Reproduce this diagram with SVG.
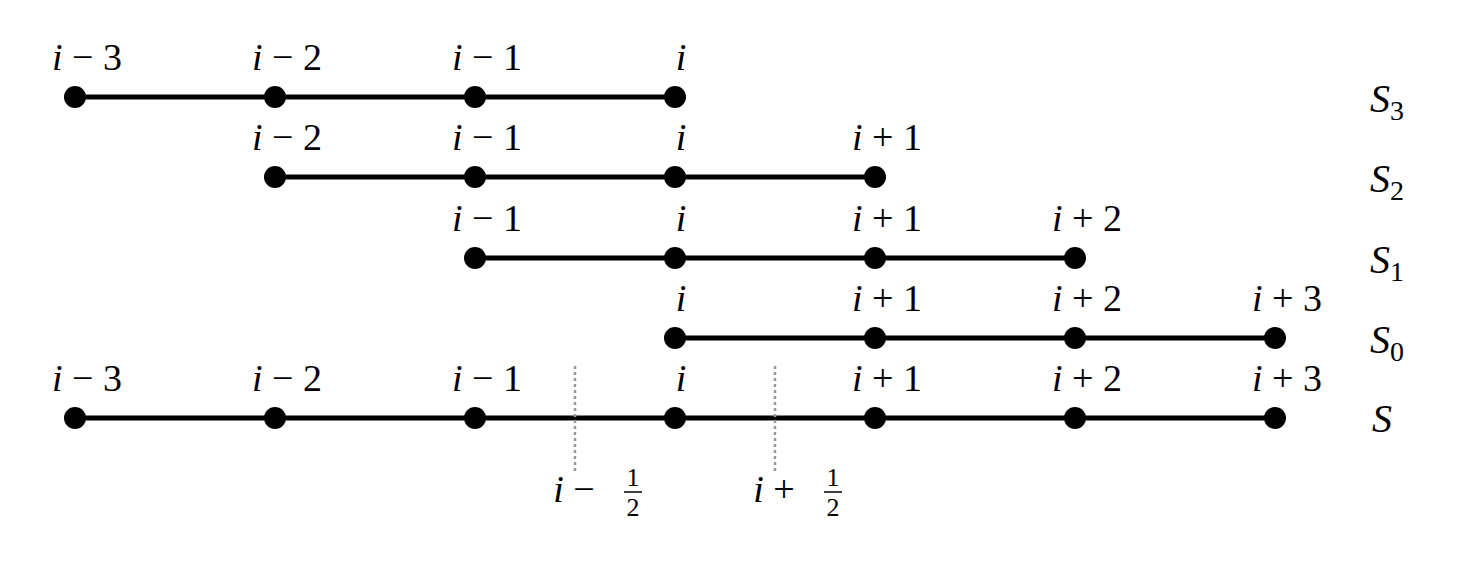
<svg xmlns="http://www.w3.org/2000/svg" width="1463" height="563" viewBox="0 0 1463 563">
<style>
.l{stroke:#000;stroke-width:5}
.d{fill:#000}
.t{font-family:"Liberation Serif",serif;font-size:38px;text-anchor:middle;fill:#000}
.i{font-style:italic}
.f{font-family:"Liberation Serif",serif;font-size:26px;text-anchor:middle;fill:#000}
.s{font-family:"Liberation Serif",serif;font-size:40px;font-style:italic;fill:#000}
.ss{font-size:28px;font-style:normal}
.dot{stroke:#999;stroke-width:2.5;stroke-dasharray:3,3}
</style>
<rect width="1463" height="563" fill="#fff"/>
<g id="connectors">
<line class="l" x1="75" y1="97" x2="675" y2="97"/>
<line class="l" x1="275" y1="177" x2="875" y2="177"/>
<line class="l" x1="475" y1="258" x2="1075" y2="258"/>
<line class="l" x1="675" y1="338" x2="1275" y2="338"/>
<line class="l" x1="75" y1="418" x2="1275" y2="418"/>
<line class="dot" x1="575" y1="366" x2="575" y2="472"/>
<line class="dot" x1="775" y1="366" x2="775" y2="472"/>
</g>
<g id="row-S3">
<circle class="d" cx="75" cy="97" r="11"/><circle class="d" cx="275" cy="97" r="11"/><circle class="d" cx="475" cy="97" r="11"/><circle class="d" cx="675" cy="97" r="11"/>
<text class="t" x="87" y="70"><tspan class="i">i</tspan> − 3</text>
<text class="t" x="287" y="70"><tspan class="i">i</tspan> − 2</text>
<text class="t" x="487" y="70"><tspan class="i">i</tspan> − 1</text>
<text class="t i" x="681" y="70">i</text>
<text class="s" x="1370" y="112">S<tspan class="ss" dy="8">3</tspan></text>
</g>
<g id="row-S2">
<circle class="d" cx="275" cy="177" r="11"/><circle class="d" cx="475" cy="177" r="11"/><circle class="d" cx="675" cy="177" r="11"/><circle class="d" cx="875" cy="177" r="11"/>
<text class="t" x="287" y="150"><tspan class="i">i</tspan> − 2</text>
<text class="t" x="487" y="150"><tspan class="i">i</tspan> − 1</text>
<text class="t i" x="681" y="150">i</text>
<text class="t" x="887" y="150"><tspan class="i">i</tspan> + 1</text>
<text class="s" x="1370" y="192">S<tspan class="ss" dy="8">2</tspan></text>
</g>
<g id="row-S1">
<circle class="d" cx="475" cy="258" r="11"/><circle class="d" cx="675" cy="258" r="11"/><circle class="d" cx="875" cy="258" r="11"/><circle class="d" cx="1075" cy="258" r="11"/>
<text class="t" x="487" y="231"><tspan class="i">i</tspan> − 1</text>
<text class="t i" x="681" y="231">i</text>
<text class="t" x="887" y="231"><tspan class="i">i</tspan> + 1</text>
<text class="t" x="1087" y="231"><tspan class="i">i</tspan> + 2</text>
<text class="s" x="1370" y="273">S<tspan class="ss" dy="8">1</tspan></text>
</g>
<g id="row-S0">
<circle class="d" cx="675" cy="338" r="11"/><circle class="d" cx="875" cy="338" r="11"/><circle class="d" cx="1075" cy="338" r="11"/><circle class="d" cx="1275" cy="338" r="11"/>
<text class="t i" x="681" y="311">i</text>
<text class="t" x="887" y="311"><tspan class="i">i</tspan> + 1</text>
<text class="t" x="1087" y="311"><tspan class="i">i</tspan> + 2</text>
<text class="t" x="1287" y="311"><tspan class="i">i</tspan> + 3</text>
<text class="s" x="1370" y="353">S<tspan class="ss" dy="8">0</tspan></text>
</g>
<g id="row-S">
<circle class="d" cx="75" cy="418" r="11"/><circle class="d" cx="275" cy="418" r="11"/><circle class="d" cx="475" cy="418" r="11"/><circle class="d" cx="675" cy="418" r="11"/><circle class="d" cx="875" cy="418" r="11"/><circle class="d" cx="1075" cy="418" r="11"/><circle class="d" cx="1275" cy="418" r="11"/>
<text class="t" x="87" y="391"><tspan class="i">i</tspan> − 3</text>
<text class="t" x="287" y="391"><tspan class="i">i</tspan> − 2</text>
<text class="t" x="487" y="391"><tspan class="i">i</tspan> − 1</text>
<text class="t i" x="681" y="391">i</text>
<text class="t" x="887" y="391"><tspan class="i">i</tspan> + 1</text>
<text class="t" x="1087" y="391"><tspan class="i">i</tspan> + 2</text>
<text class="t" x="1287" y="391"><tspan class="i">i</tspan> + 3</text>
<text class="s" x="1372" y="432">S</text>
</g>
<g id="half-labels">
<text class="t" x="574" y="502"><tspan class="i">i</tspan> −</text>
<text class="f" x="633" y="486">1</text>
<line x1="624" y1="492" x2="642" y2="492" stroke="#000" stroke-width="1.5"/>
<text class="f" x="633" y="516">2</text>
<text class="t" x="774" y="502"><tspan class="i">i</tspan> +</text>
<text class="f" x="833" y="486">1</text>
<line x1="824" y1="492" x2="842" y2="492" stroke="#000" stroke-width="1.5"/>
<text class="f" x="833" y="516">2</text>
</g>
</svg>
